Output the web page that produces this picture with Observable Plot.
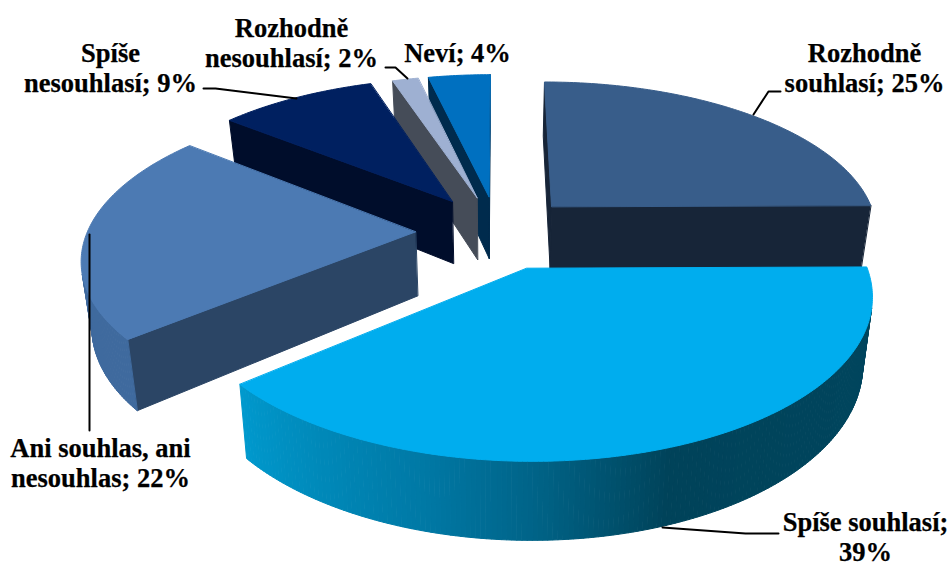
<!DOCTYPE html>
<html><head><meta charset="utf-8">
<script src="https://cdn.jsdelivr.net/npm/d3@7"></script>
<script src="https://cdn.jsdelivr.net/npm/@observablehq/plot@0.6"></script>
<style>html,body{margin:0;padding:0;background:#fff}svg{display:block}</style>
</head><body><div id="chart"></div>
<script>
const categories = ["Rozhodně souhlasí","Spíše souhlasí","Ani souhlas, ani nesouhlas","Spíše nesouhlasí","Rozhodně nesouhlasí","Neví"];
const values = [25,39.2,22,9.2,1.5,3.6];
const labels = ["Rozhodně\nsouhlasí; 25%","Spíše souhlasí;\n39%","Ani souhlas, ani\nnesouhlas; 22%","Spíše\nnesouhlasí; 9%","Rozhodně\nnesouhlasí; 2%","Neví; 4%"];
const labelX = [864,865,100,110,291,457];
const labelY = [67,536,462,67,42,52];
const topColors = ["#385D8A","#00ADEE","#4C7AB3","#002060","#9EB0D2","#0070C0"];
const wallColors = ["#172538","#00465F","#2B4565","#000D2B","#454C58","#002B4D"];
const arcColors = ["#172538",null,"#3F6A9E","#000D2B","#454C58","#002B4D"];
const explode = [0.24,0.25,0.25,0.25,0.24,0.24];
const paintOrder = [5,4,3,0,2,1];
const leaders = [
  [[780,91],[768,91],[753,114]],
  [[778,533],[745,533],[662,527]],
  [[89,234],[89,430]],
  [[203,88],[215,88],[296,98]],
  [[385,67],[395,67],[407,78]]
];

// perspective pie geometry
const cx=497, vpY=-748, L=979, p=0.154, A=328, depth=64, squeeze=0.026;
const sum=d3.sum(values);
const proj=(u,v)=>{const s=1/(1+p*v);return [cx+A*u*s, vpY+L*s, s];};
const low=([x,y,s])=>[cx+(x-cx)*(1-squeeze), y+depth*s];
const bigRamp=d3.scaleLinear().domain([90,160,180,195,229]).range(["#00465F","#00435A","#006488","#0078A4","#0098CC"]);
const polys=[];
const add=(id,pts,color)=>pts.forEach(q=>polys.push({id,x:q[0],y:q[1],color}));
const area=q=>d3.sum(q,(a,i)=>{const b=q[(i+1)%q.length];return a[0]*b[1]-b[0]*a[1];});
let acc=0; const arcs=values.map(v=>{const a0=acc/sum*360;acc+=v;return [a0,acc/sum*360];});
for(const i of paintOrder){
  const [a0,a1]=arcs[i]; const mid=(a0+a1)/2*Math.PI/180;
  const ou=explode[i]*Math.sin(mid), ov=explode[i]*Math.cos(mid);
  const n=Math.max(4,Math.ceil((a1-a0)/0.75));
  const ring=d3.range(n+1).map(k=>{const t=(a0+(a1-a0)*k/n)*Math.PI/180;return proj(ou+Math.sin(t),ov+Math.cos(t));});
  const apex=proj(ou,ov);
  const loop=[apex,...ring];
  // walls, hidden faces culled
  loop.forEach((a,k)=>{
    const b=loop[(k+1)%loop.length];
    const q=[a,b,low(b),low(a)];
    if(area(q)>=0) return;
    const radial=k===0||k===loop.length-1;
    const ang=a0+(a1-a0)*(k-0.5)/n;
    const col=radial?wallColors[i]:(arcColors[i]||bigRamp(ang));
    add(`w${i}-${k}`,q,col);
  });
  add(`t${i}`,loop,topColors[i]);
}
const plot=Plot.plot({
  width:951,height:562,margin:0,
  x:{domain:[0,951],range:[0,951],axis:null},
  y:{domain:[0,562],range:[0,562],axis:null},
  color:{type:"identity"},
  style:{background:"#fff",overflow:"hidden"},
  marks:[
    Plot.line(polys,{x:"x",y:"y",z:"id",fill:"color",stroke:"color",strokeWidth:1,curve:"linear-closed"}),
    ...leaders.map(l=>Plot.line(l,{x:d=>d[0],y:d=>d[1],stroke:"#000",strokeWidth:2})),
    Plot.text(labels,{x:(d,i)=>labelX[i],y:(d,i)=>labelY[i],text:d=>d,fontFamily:"Liberation Serif",fontWeight:"bold",fontSize:26.5,lineHeight:1.13,fill:"#000",stroke:"#000",strokeWidth:0.25,textAnchor:"middle"})
  ]
});
document.getElementById("chart").append(plot);
</script></body></html>
